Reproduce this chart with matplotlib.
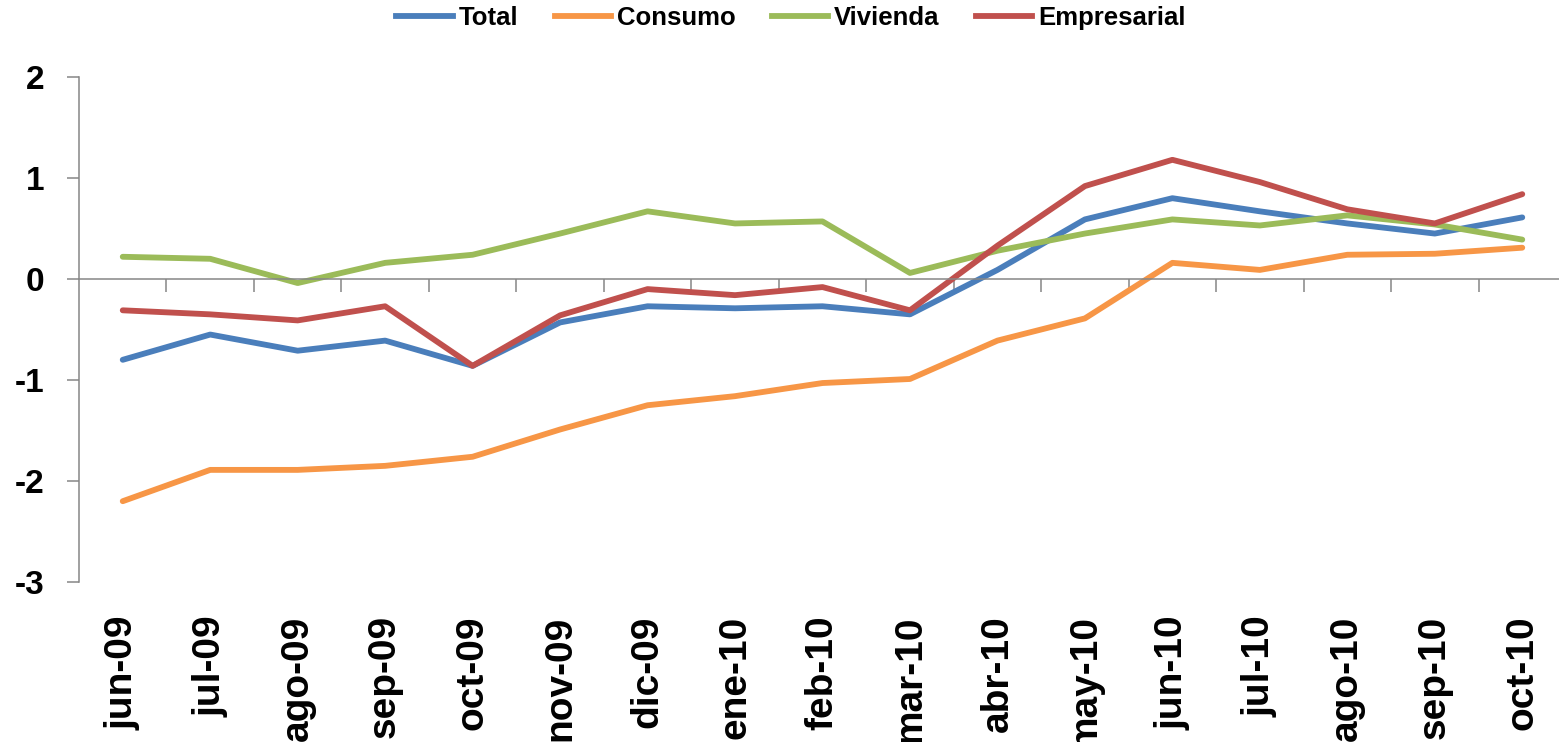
import matplotlib
matplotlib.use("Agg")
import matplotlib.pyplot as plt
from matplotlib.lines import Line2D

# datos
meses = ['jun-09', 'jul-09', 'ago-09', 'sep-09', 'oct-09', 'nov-09', 'dic-09', 'ene-10',
         'feb-10', 'mar-10', 'abr-10', 'may-10', 'jun-10', 'jul-10', 'ago-10', 'sep-10', 'oct-10']
total = [-0.80, -0.55, -0.71, -0.61, -0.86, -0.43, -0.27, -0.29, -0.27, -0.35,
         0.09, 0.59, 0.80, 0.67, 0.55, 0.45, 0.61]
consumo = [-2.20, -1.89, -1.89, -1.85, -1.76, -1.49, -1.25, -1.16, -1.03, -0.99,
           -0.61, -0.39, 0.16, 0.09, 0.24, 0.25, 0.31]
vivienda = [0.22, 0.20, -0.04, 0.16, 0.24, 0.45, 0.67, 0.55, 0.57, 0.06,
            0.28, 0.45, 0.59, 0.53, 0.63, 0.54, 0.39]
empresarial = [-0.31, -0.35, -0.41, -0.27, -0.86, -0.36, -0.10, -0.16, -0.08, -0.31,
               0.33, 0.92, 1.18, 0.96, 0.69, 0.55, 0.84]

series = [('Total', total, '#4A7EBB'),
          ('Consumo', consumo, '#F79646'),
          ('Vivienda', vivienda, '#9BBB59'),
          ('Empresarial', empresarial, '#C0504D')]

plt.rcParams['font.family'] = ['Liberation Sans', 'DejaVu Sans']
plt.rcParams['axes.unicode_minus'] = False
gris = '#868686'

fig = plt.figure(figsize=(15.59, 7.42), dpi=100)
ax = fig.add_axes([79 / 1559, 160 / 742, 1487 / 1559, 505 / 742])

x = list(range(len(meses)))
for nombre, valores, color in series:
    ax.plot(x, valores, color=color, linewidth=4.2, label=nombre,
            solid_capstyle='round', solid_joinstyle='round')

ax.set_xlim(-0.5, len(meses) - 0.5)
ax.set_ylim(-3, 2)
ax.set_yticks([-3, -2, -1, 0, 1, 2])
ax.tick_params(axis='y', direction='out', length=9, width=1.1, color=gris,
               labelsize=24, pad=16)
for lab in ax.get_yticklabels():
    lab.set_fontweight('bold')

# eje x cruzando en cero, con marcas entre categorías
ax.spines['bottom'].set_position(('data', 0))
ax.spines['bottom'].set_color(gris)
ax.spines['bottom'].set_linewidth(1.1)
ax.spines['left'].set_color(gris)
ax.spines['left'].set_linewidth(1.1)
ax.spines['top'].set_visible(False)
ax.spines['right'].set_visible(False)
ax.set_xticks([i + 0.5 for i in range(len(meses) - 1)])
ax.set_xticklabels([])
ax.tick_params(axis='x', direction='out', length=9, width=1.1, color=gris)

# etiquetas de meses en la parte inferior
sec = ax.secondary_xaxis(0.0)
sec.set_xticks(x)
sec.set_xticklabels(meses, rotation=90, fontsize=28, fontweight='bold', va='top')
sec.tick_params(length=0, pad=24)
sec.spines['bottom'].set_visible(False)

handles = [Line2D([], [], color=c, linewidth=4.2) for _, _, c in series]
fig.legend(handles, [n for n, _, _ in series], loc='center', ncol=4,
           bbox_to_anchor=(791 / 1559, 1 - 18 / 742), frameon=False,
           prop={'weight': 'bold', 'size': 18.5},
           handlelength=2.2, handletextpad=0.23, columnspacing=1.4)

fig.savefig('out.png', dpi=100)
